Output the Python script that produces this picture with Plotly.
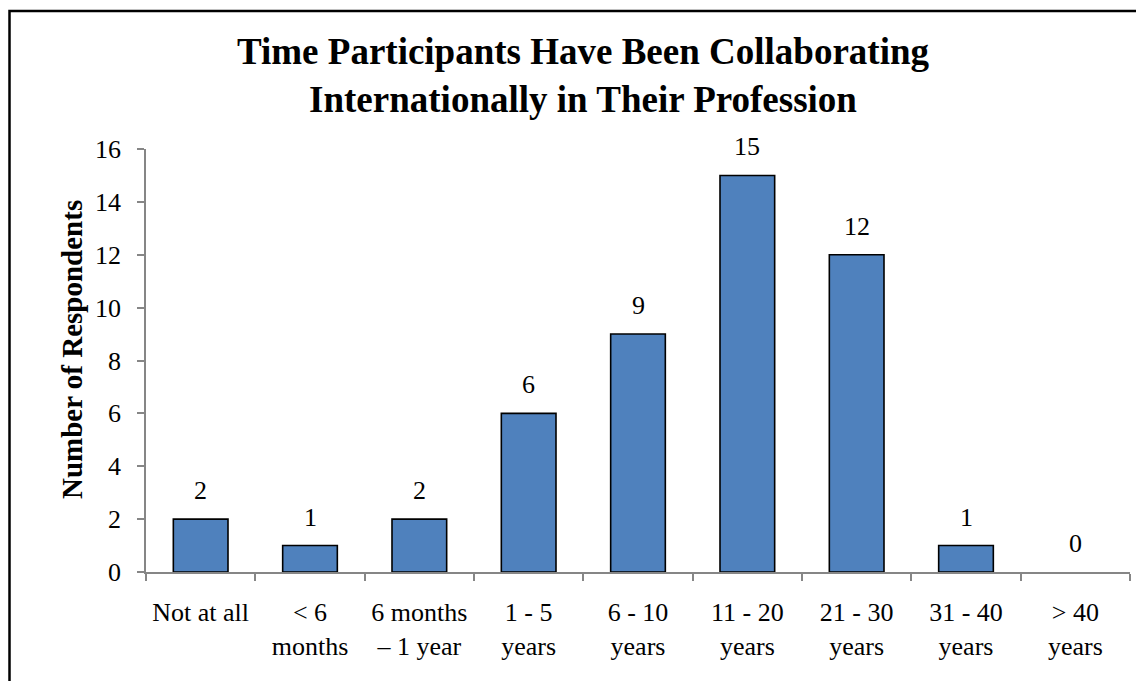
import plotly.graph_objects as go

categories = ["Not at all", "< 6<br>months", "6 months<br>– 1 year", "1 - 5<br>years",
              "6 - 10<br>years", "11 - 20<br>years", "21 - 30<br>years", "31 - 40<br>years",
              "> 40<br>years"]
respondents = [2, 1, 2, 6, 9, 15, 12, 1, 0]
y_ticks = [0, 2, 4, 6, 8, 10, 12, 14, 16]

# figure is offset by the page's 8px body margin
W, H = 1144, 681
L, R, T, B = 138, 22, 141, 117
pw, ph = W - L - R, H - T - B

FONT = "Liberation Serif, Times New Roman, serif"

fig = go.Figure()
fig.add_trace(go.Bar(
    x=categories, y=respondents,
    marker=dict(color="#4F81BD",
                line=dict(color="black", width=[1.6 if v > 0 else 0 for v in respondents])),
    hoverinfo="skip",
))

for c, v in zip(categories, respondents):
    fig.add_annotation(x=c, y=v, text=str(v), showarrow=False, yanchor="bottom",
                       yshift=12,
                       font=dict(family=FONT, size=26, color="black"))

def px_to_paper_x(px):
    return (px - L) / pw

def px_to_paper_y(py):
    return (H - B - py) / ph

# y-axis title
fig.add_annotation(text="<b>Number of Respondents</b>", textangle=-90, showarrow=False,
                   xref="paper", yref="paper",
                   x=px_to_paper_x(64), y=px_to_paper_y(342),
                   xanchor="center", yanchor="middle",
                   font=dict(family=FONT, size=29, color="black"))

# chart border (left and top visible, others run off the page)
fig.add_shape(type="rect", xref="paper", yref="paper",
              x0=px_to_paper_x(1.5), x1=px_to_paper_x(W + 10),
              y0=px_to_paper_y(H + 10), y1=px_to_paper_y(3),
              line=dict(color="black", width=2.5), layer="above")

fig.update_layout(
    width=W, height=H,
    margin=dict(l=L, r=R, t=T, b=B, autoexpand=False),
    paper_bgcolor="white", plot_bgcolor="white",
    bargap=0.5,
    showlegend=False,
    font=dict(family=FONT, size=26, color="black"),
    title=dict(
        text="<b>Time Participants Have Been Collaborating<br>Internationally in Their Profession</b>",
        font=dict(family=FONT, size=37, color="black"),
        x=575 / W, xanchor="center", xref="container",
        y=1 - 56 / H, yanchor="top", yref="container",
    ),
    xaxis=dict(
        type="category",
        showline=True, linecolor="#868686", linewidth=1.5,
        ticks="outside", tickson="boundaries", ticklen=7, tickcolor="#868686", tickwidth=1.5,
        showgrid=False, zeroline=False,
        tickfont=dict(family=FONT, size=26, color="black"),
        ticklabelstandoff=16,
        automargin=False,
    ),
    yaxis=dict(
        range=[0, 16], tickvals=y_ticks,
        showline=True, linecolor="#868686", linewidth=1.5,
        ticks="outside", ticklen=7, tickcolor="#868686", tickwidth=1.5,
        showgrid=False, zeroline=False,
        tickfont=dict(family=FONT, size=26, color="black"),
        ticklabelstandoff=11,
        automargin=False,
    ),
)

fig.write_html("out.html")
